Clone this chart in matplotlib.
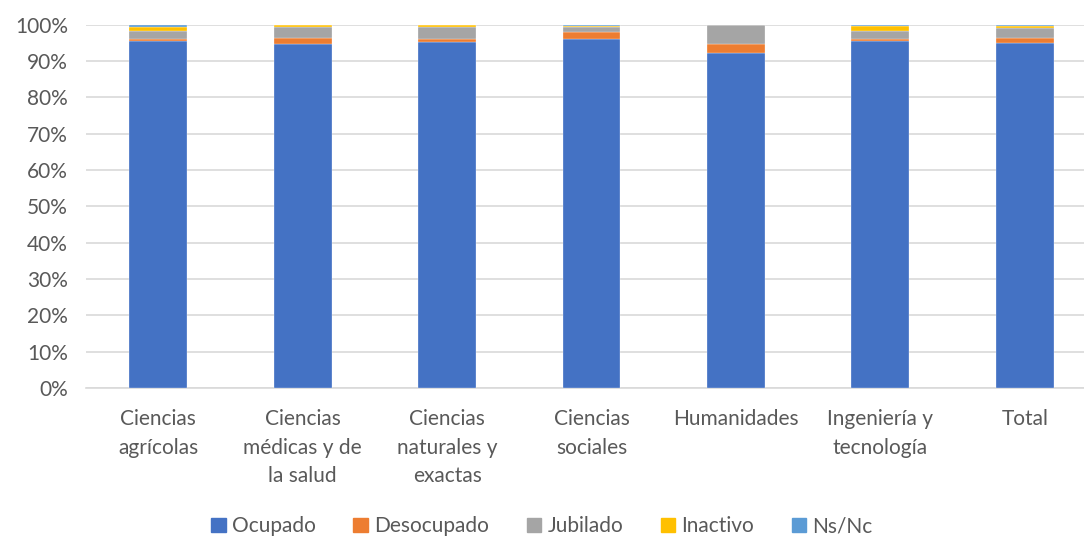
import matplotlib.pyplot as plt
import numpy as np
from matplotlib.ticker import PercentFormatter
from matplotlib.patches import Patch

plt.rcParams['font.family'] = ['Lato', 'DejaVu Sans']

# datos (proporciones por área)
categorias = ['Ciencias\nagrícolas', 'Ciencias\nmédicas y de\nla salud', 'Ciencias\nnaturales y\nexactas',
              'Ciencias\nsociales', 'Humanidades', 'Ingeniería y\ntecnología', 'Total']
ocupado = [95.6, 94.65, 95.3, 96.1, 92.2, 95.4, 95.0]
desocupado = [0.55, 1.75, 0.8, 1.95, 2.5, 0.55, 1.4]
jubilado = [2.2, 3.05, 3.3, 1.3, 5.3, 2.4, 2.8]
inactivo = [1.1, 0.55, 0.55, 0.35, 0.0, 1.2, 0.5]
nsnc = [0.55, 0.0, 0.05, 0.3, 0.0, 0.45, 0.3]

series = ['Ocupado', 'Desocupado', 'Jubilado', 'Inactivo', 'Ns/Nc']
valores = [ocupado, desocupado, jubilado, inactivo, nsnc]
colores = ['#4472C4', '#ED7D31', '#A5A5A5', '#FFC000', '#5B9BD5']

fig = plt.figure(figsize=(10.84, 5.41), dpi=100)
ax = fig.add_axes([86 / 1084, (541 - 388) / 541, 998 / 1084, (388 - 24.7) / 541])

x = np.arange(len(categorias))
base = np.zeros(len(categorias))
for nombre, vals, col in zip(series, valores, colores):
    v = np.array(vals) / 100
    ax.bar(x, v, 0.4, bottom=base, color=col, label=nombre, edgecolor='white', linewidth=0.2, zorder=3)
    base += v

ax.set_ylim(0, 1)
ax.set_xlim(-0.5, 6.41)
ax.yaxis.set_major_locator(plt.MultipleLocator(0.1))
ax.yaxis.set_major_formatter(PercentFormatter(1, decimals=0))
ax.set_xticks(x)
ax.set_xticklabels(categorias, fontsize=15, color='#595959', linespacing=1.55, va='top')
ax.tick_params(axis='y', labelsize=15, labelcolor='#595959', length=0, pad=13)
ax.tick_params(axis='x', length=0, pad=15)
ax.grid(axis='y', color='#D9D9D9', linewidth=1.2, zorder=0)
for s in ['top', 'right', 'left']:
    ax.spines[s].set_visible(False)
ax.spines['bottom'].set_color('#D9D9D9')
ax.spines['bottom'].set_linewidth(1.2)

handles = [Patch(color=c, label=n) for n, c in zip(series, colores)]
fig.legend(handles=handles, loc='center', bbox_to_anchor=(0.5, 0.027), ncol=5, frameon=False,
           fontsize=15, labelcolor='#595959', handlelength=0.7, handleheight=0.7,
           handletextpad=0.3, columnspacing=1.8)

plt.savefig('out.png', dpi=100)
